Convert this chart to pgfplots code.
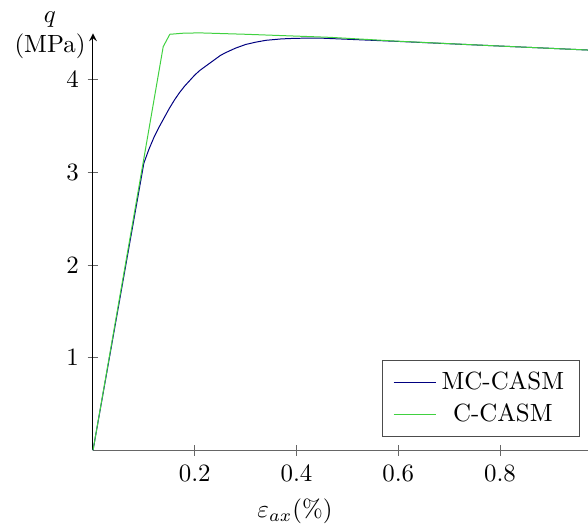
\documentclass[border=0pt]{standalone}
\usepackage{pgfplots}
\pgfplotsset{compat=1.18}
\definecolor{mcblue}{rgb}{0.0,0.0,0.5}
\definecolor{cgreen}{rgb}{0.25,0.82,0.25}
\begin{document}
\begin{tikzpicture}
\begin{axis}[
  name=ax,
  scale only axis,
  width=198.8pt, height=167.5pt,
  xmin=0, xmax=0.973, ymin=0, ymax=4.5,
  enlargelimits=false,
  clip=false,
  axis lines=left,
  x axis line style={draw=black!60,-},
  y axis line style={draw=black},
  tick style={draw=black!60},
  tick align=center,
  xtick={0.2,0.4,0.6,0.8},
  ytick={1,2,3,4},
  xticklabels={0.2,0.4,0.6,0.8},
  xlabel={$\varepsilon_{ax}(\%)$},
  xlabel style={at={(ticklabel cs:0.408)}, anchor=north},
  legend cell align=center,
  legend style={at={(1,0)}, anchor=south east, xshift=-3.2pt, yshift=5.4pt, draw=black!70, inner xsep=4.2pt, inner ysep=2.5pt},
]
\addplot[mcblue, no marks] coordinates {
(0,0) (0.1,3.1) (0.11,3.25) (0.12,3.38) (0.13,3.49) (0.14,3.59) (0.15,3.69) (0.16,3.78)
(0.17,3.86) (0.18,3.93) (0.19,3.99) (0.20,4.05) (0.21,4.10) (0.22,4.14) (0.23,4.18) (0.24,4.22)
(0.25,4.26) (0.26,4.29) (0.27,4.315) (0.28,4.34) (0.29,4.36) (0.30,4.38) (0.32,4.405) (0.34,4.425)
(0.37,4.44) (0.40,4.447) (0.45,4.448) (0.6,4.413) (0.8,4.363) (0.973,4.32)
};
\addlegendentry{MC-CASM}
\addplot[cgreen, no marks] coordinates {
(0,0) (0.1,3.15) (0.138,4.356) (0.151,4.49) (0.178,4.502) (0.21,4.505) (0.3,4.49) (0.466,4.457) (0.6,4.415) (0.8,4.363) (0.973,4.32)
};
\addlegendentry{C-CASM}
\end{axis}
\node[anchor=east, align=center, inner sep=3.33pt] at ([xshift=0.5pt,yshift=-0.8pt]ax.north west) {$q$\\(MPa)};
\pgfresetboundingbox
\path ([shift={(-37.35pt,-30.7pt)}]ax.south west) rectangle ([shift={(0pt,13.4pt)}]ax.north east);
\end{tikzpicture}
\end{document}
